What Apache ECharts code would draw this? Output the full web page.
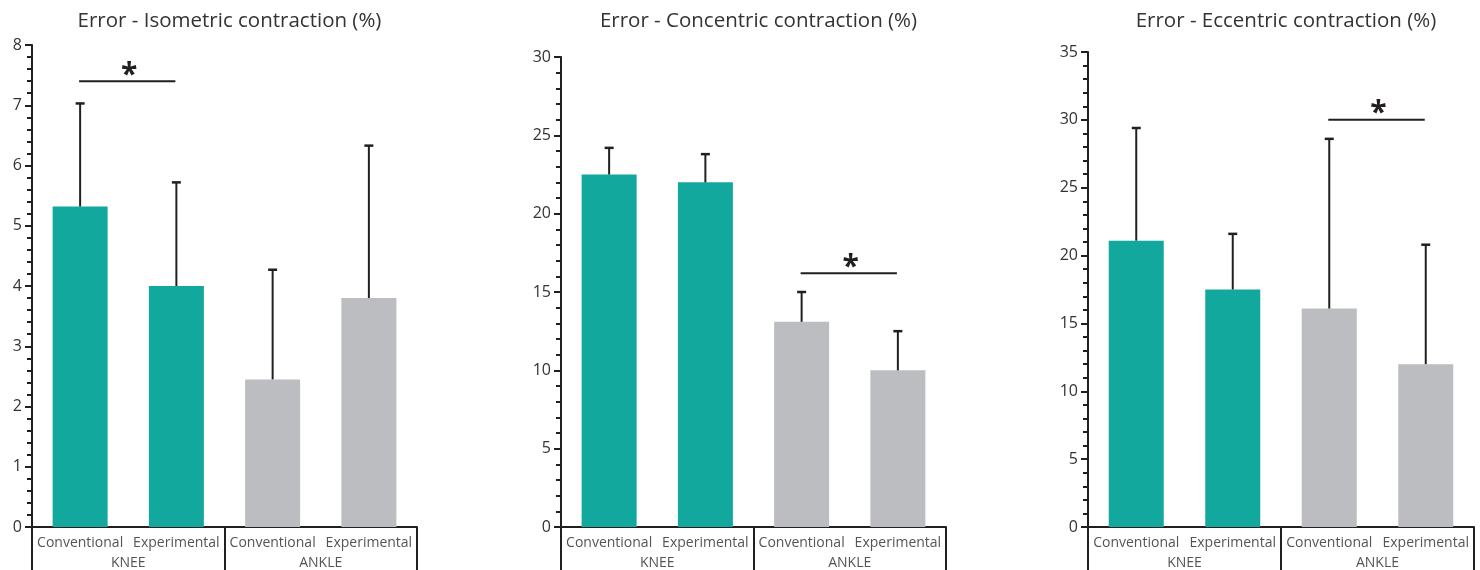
<!DOCTYPE html>
<html><head><meta charset="utf-8">
<script src="https://cdn.jsdelivr.net/npm/echarts@6/dist/echarts.min.js"></script>
<style>html,body{margin:0;padding:0;background:#fff}#c{width:1480px;height:570px}</style>
</head><body><div id="c"></div>
<script>
const categories = ['Conventional', 'Experimental', 'Conventional', 'Experimental'];
const groups = ['KNEE', 'ANKLE'];
const titles = ['Error - Isometric contraction (%)', 'Error - Concentric contraction (%)', 'Error - Eccentric contraction (%)'];
const isoMean = [5.32, 4.0, 2.45, 3.8];
const isoErr = [7.03, 5.72, 4.27, 6.33];
const conMean = [22.5, 22.0, 13.1, 10.0];
const conErr = [24.2, 23.8, 15.0, 12.5];
const eccMean = [21.1, 17.5, 16.1, 12.0];
const eccErr = [29.4, 21.6, 28.6, 20.8];
const isoSig = [0, 1, 7.4];
const conSig = [2, 3, 16.2];
const eccSig = [2, 3, 30];
const yMax = [8, 30, 35];
const yStep = [1, 5, 5];

const TEAL = '#12a89d', GREY = '#bcbdc1', INK = '#231f20';
const FONT = '"Open Sans", sans-serif';
const panels = [
  {mean: isoMean, err: isoErr, sig: isoSig, left: 32, width: 385, top: 45},
  {mean: conMean, err: conErr, sig: conSig, left: 561, width: 385, top: 57},
  {mean: eccMean, err: eccErr, sig: eccSig, left: 1088, width: 386, top: 52}
];
const barColors = [TEAL, TEAL, GREY, GREY];

const option = {animation: false, title: [], grid: [], xAxis: [], yAxis: [], series: []};
panels.forEach((p, i) => {
  option.title.push({text: titles[i], left: p.left + p.width / 2, top: 6, textAlign: 'center',
    textStyle: {fontFamily: FONT, fontSize: 20.5, fontWeight: 'normal', color: '#333'}});
  option.grid.push({left: p.left, width: p.width, top: p.top, bottom: 43});
  option.xAxis.push({type: 'category', gridIndex: i, data: categories,
    axisLine: {lineStyle: {color: INK, width: 2}}, axisTick: {show: false},
    axisLabel: {interval: 0, margin: 9, fontFamily: FONT, fontSize: 14, color: '#555'}});
  option.xAxis.push({type: 'category', gridIndex: i, data: groups, position: 'bottom',
    axisLine: {show: false},
    axisTick: {show: true, interval: 0, length: 45, lineStyle: {color: INK, width: 2}},
    axisLabel: {interval: 0, margin: 29, fontFamily: FONT, fontSize: 14, color: '#555'}});
  option.yAxis.push({type: 'value', gridIndex: i, min: 0, max: yMax[i], interval: yStep[i],
    splitLine: {show: false},
    axisLine: {show: true, lineStyle: {color: INK, width: 2}},
    axisTick: {show: true, length: 7, lineStyle: {color: INK, width: 2}},
    minorTick: {show: true, splitNumber: 5, length: 5, lineStyle: {color: INK, width: 2}},
    axisLabel: {margin: 10, fontFamily: FONT, fontSize: 16, color: '#333'}});
  option.series.push({type: 'bar', xAxisIndex: 2 * i, yAxisIndex: i, barWidth: 55,
    data: p.mean.map((v, k) => ({value: v, itemStyle: {color: barColors[k]}}))});
  option.series.push({type: 'custom', xAxisIndex: 2 * i, yAxisIndex: i, z: 5,
    data: p.mean.map((v, k) => [k, v, p.err[k]]),
    renderItem: function (params, api) {
      const a = api.coord([api.value(0), api.value(1)]);
      const b = api.coord([api.value(0), api.value(2)]);
      return {type: 'group', children: [
        {type: 'line', shape: {x1: a[0], y1: a[1], x2: b[0], y2: b[1]}, style: {stroke: INK, lineWidth: 2}},
        {type: 'line', shape: {x1: b[0] - 4.5, y1: b[1], x2: b[0] + 4.5, y2: b[1]}, style: {stroke: INK, lineWidth: 2.5}}
      ]};
    }});
  option.series.push({type: 'custom', xAxisIndex: 2 * i, yAxisIndex: i, z: 5,
    data: [p.sig],
    renderItem: function (params, api) {
      const a = api.coord([api.value(0), api.value(2)]);
      const b = api.coord([api.value(1), api.value(2)]);
      return {type: 'group', children: [
        {type: 'line', shape: {x1: a[0] - 1, y1: a[1], x2: b[0] - 1, y2: b[1]}, style: {stroke: INK, lineWidth: 2}},
        {type: 'text', style: {text: '*', x: (a[0] + b[0]) / 2 + 1, y: a[1] + 9, textAlign: 'center', textVerticalAlign: 'bottom',
          font: 'bold 30px ' + FONT, fill: INK}}
      ]};
    }});
});
echarts.init(document.getElementById('c')).setOption(option);
</script></body></html>
